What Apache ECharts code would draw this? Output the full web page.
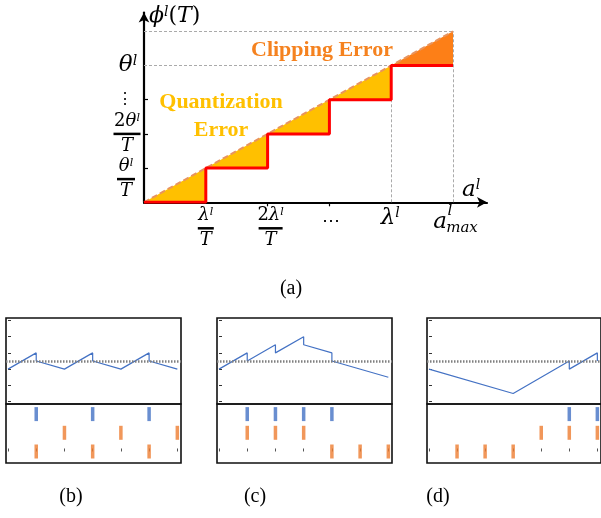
<!DOCTYPE html>
<html><head><meta charset="utf-8">
<script src="https://cdn.jsdelivr.net/npm/echarts@6/dist/echarts.min.js"></script>
<style>html,body{margin:0;padding:0;background:#fff}#c{width:601px;height:518px}</style>
</head><body><div id="c"></div>
<script>
// ---------- data: panel (a) ----------
const idealLine = [[0,0],[5,5]];
const quantStep = [[0,0],[1,0],[1,1],[2,1],[2,2],[3,2],[3,3],[4,3],[4,4],[5,4]];
const quantErrorPoly = [[0,0],[4,4],[4,3],[3,3],[3,2],[2,2],[2,1],[1,1],[1,0]];
const clipErrorPoly = [[4,4],[5,5],[5,4]];
const guideLines = [[[0,5],[5,5]],[[0,4],[4,4]],[[4,0],[4,4]],[[5,0],[5,5]]];
const yTicksA = [1,2,3];
const xTicksA = [2,3];

// ---------- data: panels (b)(c)(d) ----------
const timeSteps = [0,1,2,3,4,5,6];
const membraneTicks = [0,1,2,3,4,5];
const threshold = 2.5;
const potentialB = [[0,2],[1,3],[1,2.5],[2,2],[3,3],[3,2.5],[4,2],[5,3],[5,2.5],[6,2]];
const potentialC = [[0,2],[1,3],[1,2.5],[2,3.5],[2,3],[3,4],[3,3.5],[4,3],[4,2.5],[6,1.5]];
const potentialD = [[0,2],[3,0.5],[5,2.5],[5,2],[6,3],[6,2.5]];
const outSpikesB = [1,3,5], inSpikes1B = [2,4,6], inSpikes2B = [1,3,5];
const outSpikesC = [1,2,3,4], inSpikes1C = [1,2,3], inSpikes2C = [4,5,6];
const outSpikesD = [5,6], inSpikes1D = [4,5,6], inSpikes2D = [1,2,3];

const BLUE = '#4472C4', ORANGE = '#ED7D31';
const chart = echarts.init(document.getElementById('c'));

const grids = [{left:144, top:12.5, width:343, height:189.8, show:false}];
const xAxes = [{gridIndex:0, type:'value', min:0, max:5.55,
  axisLine:{show:true, onZero:false, symbol:['none','arrow'], symbolSize:[8,10], lineStyle:{color:'#000', width:2.2}},
  axisTick:{show:true, customValues:xTicksA, length:4, lineStyle:{color:'#000', width:1.2}},
  axisLabel:{show:false}, splitLine:{show:false}}];
const yAxes = [{gridIndex:0, type:'value', min:0, max:5.55,
  axisLine:{show:true, onZero:false, symbol:['none','arrow'], symbolSize:[8,10], lineStyle:{color:'#000', width:2.2}},
  axisTick:{show:true, inside:true, customValues:yTicksA, length:4, lineStyle:{color:'#000', width:1.2}},
  axisLabel:{show:false}, splitLine:{show:false}}];

const series = [
  {type:'custom', xAxisIndex:0, yAxisIndex:0, data:[[0,0]], silent:true, z:1,
   renderItem:(p, api) => ({type:'polygon', shape:{points: quantErrorPoly.map(d => api.coord(d))}, style:{fill:'#FFC000'}})},
  {type:'custom', xAxisIndex:0, yAxisIndex:0, data:[[0,0]], silent:true, z:1,
   renderItem:(p, api) => ({type:'polygon', shape:{points: clipErrorPoly.map(d => api.coord(d))}, style:{fill:'#FD7F17'}})},
  {type:'lines', coordinateSystem:'cartesian2d', xAxisIndex:0, yAxisIndex:0, silent:true, z:2,
   data: guideLines.map(c => ({coords:c})), lineStyle:{color:'#aaaaaa', width:1, type:[3,2], opacity:1}},
  {type:'line', xAxisIndex:0, yAxisIndex:0, data:idealLine, symbol:'none', silent:true, z:3,
   lineStyle:{color:'#E8945E', width:2, type:[6,3]}},
  {type:'line', xAxisIndex:0, yAxisIndex:0, data:quantStep, symbol:'none', silent:true, z:4,
   lineStyle:{color:'#FF0000', width:3}}
];

const panels = [
  {left:6, pot:potentialB, o:outSpikesB, i1:inSpikes1B, i2:inSpikes2B},
  {left:217, pot:potentialC, o:outSpikesC, i1:inSpikes1C, i2:inSpikes2C},
  {left:427, pot:potentialD, o:outSpikesD, i1:inSpikes1D, i2:inSpikes2D}
];
panels.forEach(pn => {
  const gT = grids.length, gB = gT + 1;
  grids.push({left:pn.left, top:318, width:175, height:86, show:true, borderColor:'#111', borderWidth:1.6});
  grids.push({left:pn.left, top:404, width:175, height:59, show:true, borderColor:'#111', borderWidth:1.6});
  const xT = xAxes.length;
  xAxes.push({gridIndex:gT, type:'value', min:-0.071, max:6.13, show:false});
  xAxes.push({gridIndex:gB, type:'value', min:-0.071, max:6.13,
    axisLine:{show:false}, axisLabel:{show:false}, splitLine:{show:false},
    axisTick:{show:true, inside:true, length:3, customValues:timeSteps, lineStyle:{color:'#555'}}});
  const yT = yAxes.length;
  yAxes.push({gridIndex:gT, type:'value', min:-0.15, max:5.15,
    axisLine:{show:false}, axisLabel:{show:false}, splitLine:{show:false},
    axisTick:{show:true, inside:true, length:3, customValues:membraneTicks, lineStyle:{color:'#333'}}});
  yAxes.push({gridIndex:gB, type:'value', min:-0.615, max:2.54, show:false});
  series.push({type:'line', xAxisIndex:xT, yAxisIndex:yT, data:pn.pot, symbol:'none', silent:true, z:3,
    lineStyle:{color:BLUE, width:1.2},
    markLine:{silent:true, symbol:'none', label:{show:false}, lineStyle:{color:'#808080', width:2.5, type:[1.5,1.5]},
      data:[{yAxis:threshold}]}});
  const sp = (arr, row, col) => ({type:'scatter', xAxisIndex:xT+1, yAxisIndex:yT+1, silent:true,
    symbol:'rect', symbolSize:[3.5,14], itemStyle:{color:col}, data:arr.map(t => [t,row])});
  series.push(sp(pn.o, 2, BLUE), sp(pn.i1, 1, ORANGE), sp(pn.i2, 0, ORANGE));
});

chart.setOption({animation:false, grid:grids, xAxis:xAxes, yAxis:yAxes, series:series});

// ---------- math labels ----------
const MF = 'DejaVu Serif';
function mt(x, y, text, size, align) {
  return {type:'text', x:x, y:y, z:10, silent:true, style:{text:text, align:align||'center', verticalAlign:'middle', fill:'#000',
    rich:{
      m:{fontFamily:MF, fontStyle:'italic', fontSize:size, fill:'#000'},
      r:{fontFamily:MF, fontSize:size, fill:'#000'},
      s:{fontFamily:MF, fontStyle:'italic', fontSize:Math.round(size*0.62), verticalAlign:'top', fill:'#000'}
    }}};
}
function frac(cx, by, num, bw, den, size) {
  return [mt(cx, by-12.5, num, size), mt(cx, by+12.5, den, size),
    {type:'rect', z:10, silent:true, shape:{x:cx-bw/2, y:by-1.25, width:bw, height:2.5}, style:{fill:'#000'}}];
}
const P = (x,y) => chart.convertToPixel({gridIndex:0}, [x,y]);
const g = [];
let a;
a = P(0,1); g.push(...frac(a[0]-18, a[1]+11, '{m|θ}{s|l}', 18, '{m|T}', 18));
a = P(0,2); g.push(...frac(a[0]-17, a[1], '{r|2}{m|θ}{s|l}', 27, '{m|T}', 18));
a = P(0,3); g.push(mt(a[0]-19, a[1], '{r|⋮}', 16));
a = P(0,4); g.push(mt(a[0]-16, a[1], '{m|θ}{s|l}', 23));
a = P(1,0); g.push(...frac(a[0], a[1]+26, '{m|λ}{s|l}', 16, '{m|T}', 18));
a = P(2,0); g.push(...frac(a[0]+3, a[1]+26, '{r|2}{m|λ}{s|l}', 24, '{m|T}', 18));
a = P(3,0); g.push(mt(a[0]+2, a[1]+19, '{r|⋯}', 18));
a = P(4,0); g.push(mt(a[0]-1, a[1]+16, '{m|λ}{s|l}', 23));
a = P(5,0);
g.push(mt(a[0]-13, a[1]+20, '{m|a}', 23, 'center'));
g.push(mt(a[0]-3, a[1]+9, '{m|l}', 15, 'center'));
g.push(mt(a[0]+9, a[1]+26, '{m|max}', 15, 'center'));
g.push(mt(462, 190, '{m|a}{s|l}', 23, 'left'));
g.push(mt(149, 16, '{m|ϕ}{s|l}{r|(}{m|T}{r|)}', 22, 'left'));
// error labels
const ef = {fontFamily:'Liberation Serif', fontWeight:'bold', fontSize:22};
g.push({type:'text', x:322, y:50, z:10, style:Object.assign({text:'Clipping Error', fill:'#F5821F', align:'center', verticalAlign:'middle'}, ef)});
g.push({type:'text', x:221, y:102, z:10, style:Object.assign({text:'Quantization', fill:'#FFC000', align:'center', verticalAlign:'middle'}, ef)});
g.push({type:'text', x:221, y:130, z:10, style:Object.assign({text:'Error', fill:'#FFC000', align:'center', verticalAlign:'middle'}, ef)});
// panel captions
const cf = {fontFamily:'Liberation Serif', fontSize:20, fill:'#000', align:'center', verticalAlign:'middle'};
[['(a)',291,289],['(b)',71,497],['(c)',255,497],['(d)',438,497]].forEach(c => {
  g.push({type:'text', x:c[1], y:c[2], z:10, style:Object.assign({text:c[0]}, cf)});
});
chart.setOption({graphic: g});
</script></body></html>
